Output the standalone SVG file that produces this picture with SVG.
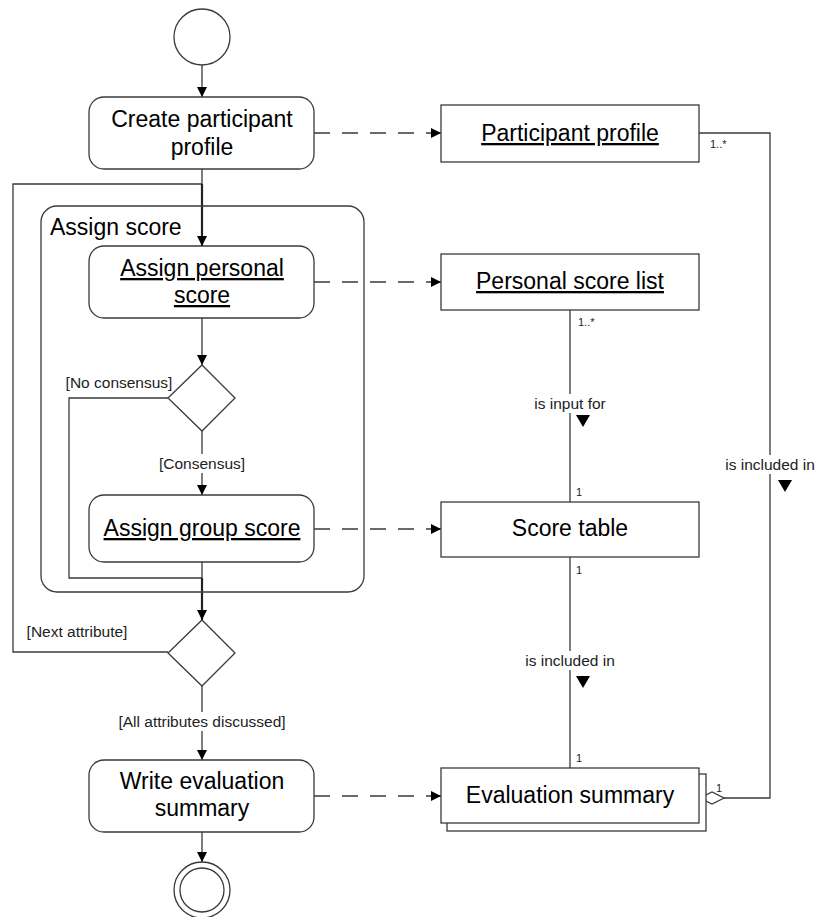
<svg xmlns="http://www.w3.org/2000/svg" width="819" height="917" viewBox="0 0 819 917">
<style>
.ln{fill:none;stroke:#3a3a3a;stroke-width:1.3}
.thk{fill:none;stroke:#222;stroke-width:2.2}
.dash{fill:none;stroke:#3a3a3a;stroke-width:1.3;stroke-dasharray:16 12}
.act{fill:#fff;stroke:#3a3a3a;stroke-width:1.3}
.obj{fill:#fff;stroke:#3a3a3a;stroke-width:1.3}
.big{font-family:"Liberation Sans",Arial,sans-serif;font-size:23px;fill:#000;text-anchor:middle}
.sm{font-family:"Liberation Sans",Arial,sans-serif;font-size:15.5px;fill:#222;text-anchor:middle}
.tiny{font-family:"Liberation Sans",Arial,sans-serif;font-size:11px;fill:#222}
.u{text-decoration:underline}
</style>
<defs>
<marker id="ah" viewBox="0 0 10 10" refX="10" refY="5" markerWidth="10" markerHeight="10" markerUnits="userSpaceOnUse" orient="auto">
<path d="M0,0 L10,5 L0,10 Z" fill="#000"/>
</marker>
</defs>

<g id="connectors">
<line class="ln" x1="202" y1="65" x2="202" y2="97" marker-end="url(#ah)"/>
<line class="ln" x1="202" y1="169" x2="202" y2="184"/>
<polyline class="ln" points="168,652 13,652 13,184 202,184"/>
<line class="thk" x1="202" y1="184" x2="202" y2="246" marker-end="url(#ah)"/>
<line class="ln" x1="202" y1="318" x2="202" y2="365" marker-end="url(#ah)"/>
<line class="ln" x1="202" y1="431" x2="202" y2="495" marker-end="url(#ah)"/>
<polyline class="ln" points="168,398 69,398 69,578 202,578"/>
<line class="ln" x1="202" y1="562" x2="202" y2="578"/>
<line class="thk" x1="202" y1="578" x2="202" y2="620" marker-end="url(#ah)"/>
<line class="ln" x1="202" y1="686" x2="202" y2="760" marker-end="url(#ah)"/>
<line class="ln" x1="202" y1="832" x2="202" y2="862" marker-end="url(#ah)"/>

<line class="dash" x1="314" y1="133" x2="441" y2="133" marker-end="url(#ah)"/>
<line class="dash" x1="314" y1="282" x2="441" y2="282" marker-end="url(#ah)"/>
<line class="dash" x1="314" y1="529" x2="441" y2="529" marker-end="url(#ah)"/>
<line class="dash" x1="314" y1="796" x2="441" y2="796" marker-end="url(#ah)"/>

<line class="ln" x1="570" y1="310" x2="570" y2="502"/>
<line class="ln" x1="570" y1="557" x2="570" y2="768"/>
<polyline class="ln" points="699,133 770,133 770,798 724,798"/>
<path d="M700,798 L712,792 L724,798 L712,804 Z" fill="#fff" stroke="#3a3a3a" stroke-width="1.3"/>

<rect x="528" y="394" width="84" height="19" fill="#fff"/>
<text class="sm" x="570" y="409">is input for</text>
<path d="M576,415 L590,415 L583,427 Z" fill="#000"/>
<rect x="518" y="651" width="104" height="19" fill="#fff"/>
<text class="sm" x="570" y="666">is included in</text>
<path d="M576,676 L590,676 L583,688 Z" fill="#000"/>
<rect x="718" y="455" width="100" height="19" fill="#fff"/>
<text class="sm" x="770" y="470">is included in</text>
<path d="M778,480 L792,480 L785,492 Z" fill="#000"/>

<text class="tiny" x="710" y="148">1..*</text>
<text class="tiny" x="578" y="326">1..*</text>
<text class="tiny" x="576" y="496">1</text>
<text class="tiny" x="576" y="574">1</text>
<text class="tiny" x="576" y="762">1</text>
<text class="tiny" x="716" y="792">1</text>

<text class="sm" x="119" y="388">[No consensus]</text>
<rect x="150" y="454" width="104" height="19" fill="#fff"/>
<text class="sm" x="202" y="469">[Consensus]</text>
<text class="sm" x="77" y="637">[Next attribute]</text>
<rect x="112" y="712" width="180" height="19" fill="#fff"/>
<text class="sm" x="202" y="727">[All attributes discussed]</text>
</g>

<g id="start"><circle cx="202" cy="37" r="28" fill="#fff" stroke="#3a3a3a" stroke-width="1.3"/></g>

<g id="create-profile">
<rect class="act" x="89" y="97" width="225" height="72" rx="15"/>
<text class="big" x="202" y="127">Create participant</text>
<text class="big" x="202" y="155">profile</text>
</g>

<g id="assign-score">
<rect class="ln" x="41" y="206" width="323" height="386" rx="16"/>
<text class="big" x="50" y="235" style="text-anchor:start">Assign score</text>
</g>

<g id="assign-personal">
<rect class="act" x="89" y="246" width="225" height="72" rx="15"/>
<text class="big u" x="202" y="276">Assign personal</text>
<text class="big u" x="202" y="303">score</text>
</g>

<g id="decision-consensus"><path d="M202,365 L235,398 L202,431 L168,398 Z" fill="#fff" stroke="#3a3a3a" stroke-width="1.3"/></g>

<g id="assign-group">
<rect class="act" x="89" y="495" width="225" height="67" rx="15"/>
<text class="big u" x="202" y="536">Assign group score</text>
</g>

<g id="decision-attribute"><path d="M202,620 L235,653 L202,686 L168,653 Z" fill="#fff" stroke="#3a3a3a" stroke-width="1.3"/></g>

<g id="write-summary">
<rect class="act" x="89" y="760" width="225" height="72" rx="15"/>
<text class="big" x="202" y="789">Write evaluation</text>
<text class="big" x="202" y="816">summary</text>
</g>

<g id="end">
<circle cx="202" cy="890" r="28" fill="#fff" stroke="#3a3a3a" stroke-width="1.3"/>
<circle cx="202" cy="890" r="22" fill="#fff" stroke="#3a3a3a" stroke-width="1.3"/>
</g>

<g id="participant-profile">
<rect class="obj" x="441" y="105" width="258" height="57"/>
<text class="big u" x="570" y="141">Participant profile</text>
</g>

<g id="personal-score-list">
<rect class="obj" x="441" y="254" width="258" height="56"/>
<text class="big u" x="570" y="289">Personal score list</text>
</g>

<g id="score-table">
<rect class="obj" x="441" y="502" width="258" height="55"/>
<text class="big" x="570" y="536">Score table</text>
</g>

<g id="evaluation-summary">
<rect class="obj" x="447" y="774" width="259" height="57"/>
<rect class="obj" x="441" y="768" width="258" height="55"/>
<text class="big" x="570" y="803">Evaluation summary</text>
</g>
</svg>
